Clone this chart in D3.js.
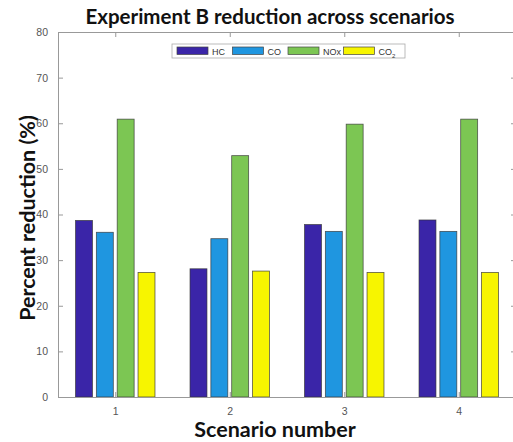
<!DOCTYPE html>
<html>
<head>
<meta charset="utf-8">
<script src="https://cdn.jsdelivr.net/npm/d3@7"></script>
<style>
  body { margin: 0; background: #fff; overflow: hidden; }
  svg { display: block; }
</style>
</head>
<body>
<script>
const svgW = 513;
const svgH = 442;

// data
const scenarios = [1, 2, 3, 4];
const species = ['HC', 'CO', 'NOx', 'CO2'];
const colors = ['#3a25a8', '#1f96e0', '#7cc653', '#f7f500'];
const hcVals = [38.7, 28.1, 37.8, 38.8];
const coVals = [36.1, 34.7, 36.3, 36.3];
const noxVals = [60.9, 52.9, 59.8, 60.9];
const co2Vals = [27.3, 27.6, 27.3, 27.3];
const yTicks = [0, 10, 20, 30, 40, 50, 60, 70, 80];

const series = [hcVals, coVals, noxVals, co2Vals];

const plot = { left: 58, right: 516, top: 32, bottom: 397 };

const x = d3.scaleLinear().domain([0.5, 4.5]).range([plot.left, plot.right]);
const y = d3.scaleLinear().domain([0, 80]).range([plot.bottom, plot.top]);

const barW = 0.148;
const barStep = 0.182;

const svg = d3.select('body')
  .append('svg')
  .attr('width', svgW)
  .attr('height', svgH);

// bars
const rows = [];
scenarios.forEach((s, j) => {
  series.forEach((vals, i) => {
    rows.push({ s: s, i: i, v: vals[j] });
  });
});

svg.append('g')
  .selectAll('rect')
  .data(rows)
  .enter()
  .append('rect')
  .attr('x', d => x(d.s + (d.i - 1.5) * barStep - barW / 2))
  .attr('width', d => x(barW) - x(0))
  .attr('y', d => y(d.v))
  .attr('height', d => y(0) - y(d.v))
  .attr('fill', d => colors[d.i])
  .attr('stroke', '#333')
  .attr('stroke-opacity', 0.8)
  .attr('stroke-width', 0.8);

// axes
const axisColor = '#999';
const tickFont = "10.5px 'Liberation Sans', Arial, sans-serif";

const yAxis = svg.append('g')
  .attr('transform', 'translate(' + plot.left + ',0)')
  .call(d3.axisLeft(y).tickValues(yTicks).tickSize(-5).tickPadding(10));

const xAxis = svg.append('g')
  .attr('transform', 'translate(0,' + plot.bottom + ')')
  .call(d3.axisBottom(x).tickValues(scenarios).tickFormat(d3.format('d')).tickSize(-5).tickPadding(11));

const topAxis = svg.append('g')
  .attr('transform', 'translate(0,' + plot.top + ')')
  .call(d3.axisTop(x).tickValues(scenarios).tickSize(-5).tickFormat(''));

const rightAxis = svg.append('g')
  .attr('transform', 'translate(' + plot.right + ',0)')
  .call(d3.axisRight(y).tickValues(yTicks).tickSize(-5).tickFormat(''));

[yAxis, xAxis, topAxis, rightAxis].forEach(a => {
  a.select('.domain').attr('stroke', axisColor);
  a.selectAll('.tick line').attr('stroke', axisColor);
  a.selectAll('.tick text')
    .style('font', tickFont)
    .attr('fill', '#555');
});

// legend
const legend = svg.append('g');
legend.append('rect')
  .attr('x', 172)
  .attr('y', 44)
  .attr('width', 233)
  .attr('height', 14)
  .attr('fill', '#fff')
  .attr('stroke', '#aaa')
  .attr('stroke-width', 0.8);

const items = legend.selectAll('g.item')
  .data(species)
  .enter()
  .append('g')
  .attr('class', 'item')
  .attr('transform', (d, i) => 'translate(' + (177 + i * 55.5) + ',47)');

items.append('rect')
  .attr('width', 31)
  .attr('height', 7.5)
  .attr('fill', (d, i) => colors[i])
  .attr('stroke', '#444')
  .attr('stroke-width', 0.7);

items.append('text')
  .attr('x', 35)
  .attr('y', 7.5)
  .style('font', "9px 'Liberation Sans', Arial, sans-serif")
  .attr('fill', '#333')
  .each(function (d) {
    const t = d3.select(this);
    if (d === 'CO2') {
      t.append('tspan').text('CO');
      t.append('tspan').attr('dy', 3).style('font-size', '6px').text('2');
    } else {
      t.text(d);
    }
  });

// titles
const labelFont = "'Lato', 'Open Sans', sans-serif";

svg.append('text')
  .attr('x', 270)
  .attr('y', 24)
  .attr('text-anchor', 'middle')
  .style('font-family', labelFont)
  .style('font-weight', 'bold')
  .style('font-size', '20.5px')
  .attr('fill', '#111')
  .text('Experiment B reduction across scenarios');

svg.append('text')
  .attr('transform', 'translate(35,218) rotate(-90)')
  .attr('text-anchor', 'middle')
  .style('font-family', labelFont)
  .style('font-weight', 'bold')
  .style('font-size', '21.5px')
  .attr('fill', '#111')
  .text('Percent reduction (%)');

svg.append('text')
  .attr('x', 275)
  .attr('y', 437)
  .attr('text-anchor', 'middle')
  .style('font-family', labelFont)
  .style('font-weight', 'bold')
  .style('font-size', '21.5px')
  .attr('fill', '#111')
  .text('Scenario number');
</script>
</body>
</html>
